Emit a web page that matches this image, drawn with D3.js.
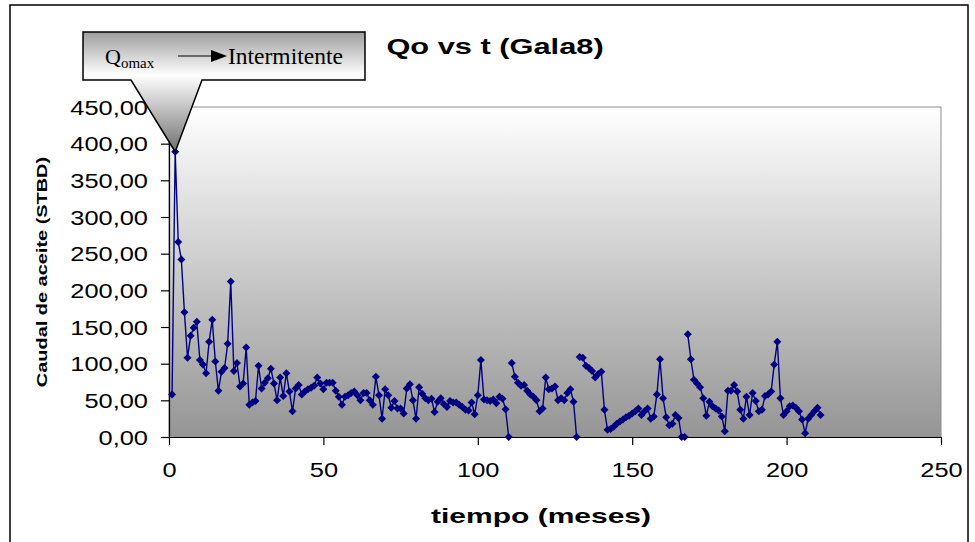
<!DOCTYPE html>
<html><head><meta charset="utf-8">
<script src="https://cdn.jsdelivr.net/npm/d3@7"></script>
<style>body{margin:0;background:#fff;} svg{display:block;}</style>
</head><body>
<svg id="chart" width="975" height="542"></svg>
<script>
// ---------- data ----------
const chartTitle = "Qo vs t (Gala8)";
const xTitle = "tiempo (meses)";
const yTitle = "Caudal de aceite (STBD)";
const xTicks = [0, 50, 100, 150, 200, 250];
const yTicks = [0, 50, 100, 150, 200, 250, 300, 350, 400, 450];
const firstMonth = 1;
// oil rate per month (STBD), month 1 .. 211
const qo = [
  58,389,266,242,170,108,138,149,157,105,
  99,87,130,160,103,63,89,94,127,212,
  90,101,69,73,122,44,47,49,97,66,
  74,80,93,73,50,81,56,87,62,35,
  66,71,58,62,65,67,70,81,73,65,
  74,74,74,63,55,44,55,57,60,62,
  57,50,60,60,50,44,82,57,25,65,
  57,40,49,39,39,32,66,72,50,25,
  68,59,53,50,52,34,48,53,45,41,
  49,47,47,44,41,37,36,47,31,57,
  105,51,50,49,51,46,55,52,38,0,
  101,82,74,70,71,63,58,55,50,35,
  39,81,65,66,69,50,53,50,60,65,
  48,0,109,108,97,94,90,81,86,89,
  37,10,11,14,18,21,24,27,29,32,
  35,39,30,35,39,25,28,58,106,53,
  27,16,18,30,26,0,0,140,106,78,
  73,68,53,29,48,42,39,36,28,8,
  63,63,71,62,37,25,55,30,60,49,
  35,37,56,58,62,99,130,53,30,35,
  42,43,40,35,24,5,25,30,35,40,
  30
];
// months after which the line is interrupted
const lineBreaks = [110, 132, 167];
// callout annotation
const calloutMonth = 2;
const calloutLabelMain = "Q";
const calloutLabelSub = "omax";
const calloutLabelRight = "Intermitente";

// ---------- layout ----------
const svg = d3.select("#chart");
const pLeft = 169, pRight = 941, pTop = 107, pBottom = 437;
const x = d3.scaleLinear().domain([0, 250]).range([pLeft, pRight]);
const y = d3.scaleLinear().domain([0, 450]).range([pBottom, pTop]);
const SX = 1.27;
const sans = "'Liberation Sans', Arial, sans-serif";
const serif = "'Liberation Serif', 'Times New Roman', serif";

const defs = svg.append("defs");
const pg = defs.append("linearGradient").attr("id", "plotGrad")
  .attr("x1", 0).attr("y1", 0).attr("x2", 0).attr("y2", 1);
pg.append("stop").attr("offset", 0).attr("stop-color", "#ffffff");
pg.append("stop").attr("offset", 1).attr("stop-color", "#959595");

const cg = defs.append("linearGradient").attr("id", "callGrad")
  .attr("gradientUnits", "userSpaceOnUse")
  .attr("x1", 0).attr("y1", 32).attr("x2", 0).attr("y2", y(qo[calloutMonth - firstMonth]));
cg.append("stop").attr("offset", 0).attr("stop-color", "#9c9c9c");
cg.append("stop").attr("offset", 0.36).attr("stop-color", "#ffffff");
cg.append("stop").attr("offset", 1).attr("stop-color", "#707070");

// outer border
svg.append("rect").attr("x", 10).attr("y", 5).attr("width", 958).attr("height", 560)
  .attr("fill", "#fff").attr("stroke", "#000").attr("stroke-width", 1.5);

// plot area
svg.append("rect").attr("x", pLeft).attr("y", pTop).attr("width", pRight - pLeft).attr("height", pBottom - pTop)
  .attr("fill", "url(#plotGrad)").attr("stroke", "#8c8c8c").attr("stroke-width", 1);

// axes
const yAxis = svg.append("g").attr("transform", `translate(${pLeft},0)`)
  .call(d3.axisLeft(y).tickValues(yTicks).tickSize(8).tickSizeOuter(0)
    .tickFormat(d => d.toFixed(2).replace(".", ",")));
yAxis.selectAll("text").attr("x", 0).attr("dy", "0.35em")
  .attr("transform", `translate(-21,0) scale(${SX},1)`)
  .style("font-family", sans).style("font-size", "20px").attr("fill", "#000");

const xAxis = svg.append("g").attr("transform", `translate(0,${pBottom})`)
  .call(d3.axisBottom(x).tickValues(xTicks).tickSize(8).tickSizeOuter(0).tickFormat(d3.format("d")));
xAxis.selectAll("text").attr("y", 0).attr("dy", "0.71em")
  .attr("transform", `translate(0,26) scale(${SX},1)`)
  .style("font-family", sans).style("font-size", "20px").attr("fill", "#000");
svg.selectAll(".domain, .tick line").attr("stroke", "#000").attr("stroke-width", 1.2);

// series
const pts = qo.map((v, i) => ({ m: i + firstMonth, v }));
const segments = [];
let cur = [];
pts.forEach(p => {
  cur.push(p);
  if (lineBreaks.includes(p.m)) { segments.push(cur); cur = []; }
});
if (cur.length) segments.push(cur);

const line = d3.line().x(d => x(d.m)).y(d => y(d.v));
svg.append("g").selectAll("path").data(segments).join("path")
  .attr("d", line).attr("fill", "none").attr("stroke", "#000080").attr("stroke-width", 1.4);

const diamond = { draw(ctx, size) { const h = Math.sqrt(size) / 2; ctx.moveTo(0, -h); ctx.lineTo(h, 0); ctx.lineTo(0, h); ctx.lineTo(-h, 0); ctx.closePath(); } };
svg.append("g").selectAll("path").data(pts).join("path")
  .attr("transform", d => `translate(${x(d.m)},${y(d.v)})`)
  .attr("d", d3.symbol().type(diamond).size(64)).attr("fill", "#000080");

// titles
svg.append("text").attr("transform", `translate(495,54) scale(1.4,1)`)
  .attr("text-anchor", "middle").style("font-family", sans).style("font-weight", "bold")
  .style("font-size", "22px").text(chartTitle);
svg.append("text").attr("transform", `translate(541,523) scale(1.5,1)`)
  .attr("text-anchor", "middle").style("font-family", sans).style("font-weight", "bold")
  .style("font-size", "20px").text(xTitle);
svg.append("text").attr("transform", `translate(47,272) rotate(-90) scale(1.33,1)`)
  .attr("text-anchor", "middle").style("font-family", sans).style("font-weight", "bold")
  .style("font-size", "15px").text(yTitle);

// callout
const tipX = x(calloutMonth), tipY = y(qo[calloutMonth - firstMonth]);
const cp = d3.path();
cp.moveTo(83, 32); cp.lineTo(365, 32); cp.lineTo(365, 80); cp.lineTo(202, 80);
cp.lineTo(tipX, tipY); cp.lineTo(131, 80); cp.lineTo(83, 80); cp.closePath();
svg.append("path").attr("d", cp.toString()).attr("fill", "url(#callGrad)")
  .attr("stroke", "#000").attr("stroke-width", 1.5);
const ct = svg.append("text").attr("x", 105).attr("y", 64).style("font-family", serif).style("font-size", "22px");
ct.append("tspan").text(calloutLabelMain);
ct.append("tspan").attr("dy", 4).style("font-size", "15px").text(calloutLabelSub);
svg.append("line").attr("x1", 178).attr("x2", 212).attr("y1", 56).attr("y2", 56).attr("stroke", "#000").attr("stroke-width", 1);
svg.append("path").attr("d", "M211,50 L227,56 L211,62 Z").attr("fill", "#000");
svg.append("text").attr("x", 228).attr("y", 64).style("font-family", serif).style("font-size", "23.5px").text(calloutLabelRight);
</script>
</body></html>
